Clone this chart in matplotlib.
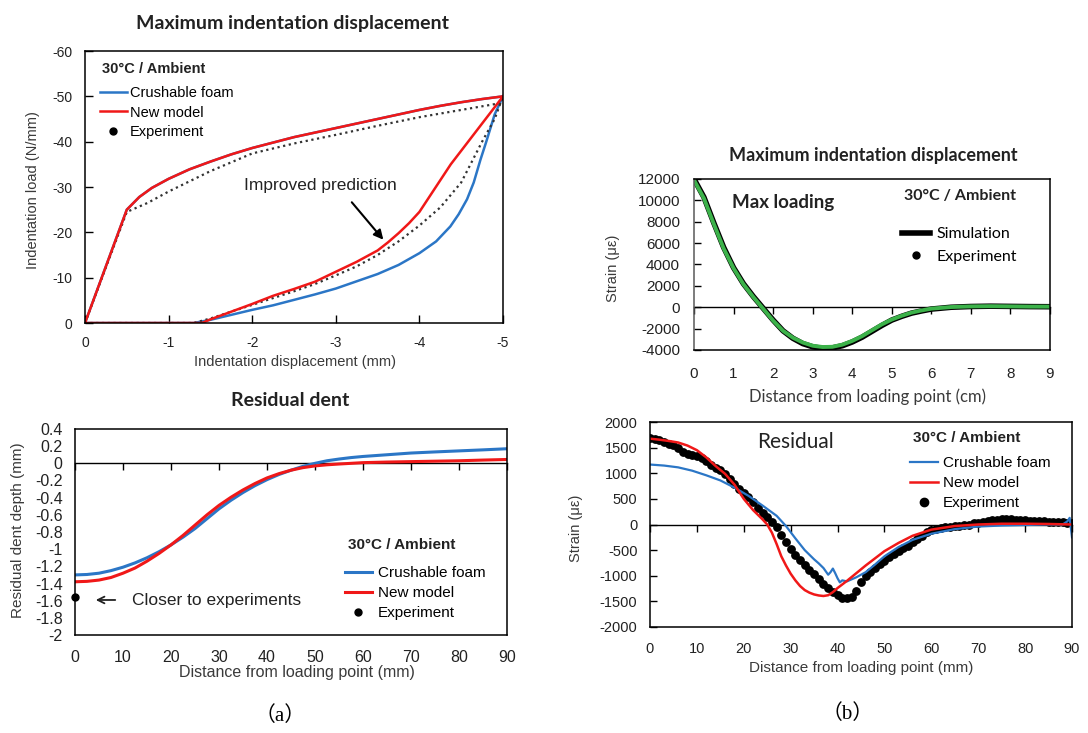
import matplotlib.pyplot as plt
from matplotlib.lines import Line2D

plt.rcParams['font.family'] = ['Liberation Sans', 'DejaVu Sans']
plt.rcParams['axes.unicode_minus'] = False

W, H = 1088, 733

BLUE = '#2b76c6'
RED = '#f01818'
GREEN = '#3cb24a'
LABEL = '#3a3a3a'

# (a) top: indentation load vs displacement (mm, N/mm)
load_x = [0, -0.5, -0.65, -0.8, -1.0, -1.25, -1.5, -1.75, -2.0, -2.25, -2.5, -2.75, -3.0,
          -3.25, -3.5, -3.75, -4.0, -4.25, -4.5, -4.75, -5.0]
load_model = [0, -25, -27.8, -29.8, -31.8, -33.9, -35.6, -37.2, -38.6, -39.8, -41, -42,
              -43, -44, -45, -46, -47, -47.9, -48.7, -49.4, -50]

unload_new_x = [-5, -4.875, -4.75, -4.625, -4.5, -4.375, -4.25, -4.125, -4.0, -3.875, -3.75,
                -3.625, -3.5, -3.25, -3.0, -2.75, -2.5, -2.25, -2.0, -1.75, -1.5, -1.4,
                -1.0, -0.5, 0]
unload_new = [-50, -47, -44, -41, -38, -35, -31.5, -28, -24.5, -22, -19.8, -17.8, -16,
              -13.5, -11.3, -9.1, -7.5, -6, -4.2, -2.5, -0.8, 0, 0, 0, 0]

unload_foam_x = [-5, -4.95, -4.9, -4.85, -4.8, -4.73, -4.65, -4.57, -4.47, -4.37, -4.2,
                 -4.0, -3.75, -3.5, -3.25, -3.0, -2.75, -2.5, -2.25, -2.0, -1.75, -1.5,
                 -1.3, -1.0, -0.5, 0]
unload_foam = [-50, -48, -46, -43, -40, -36, -31, -27.3, -24, -21.3, -18, -15.4, -12.8,
               -10.8, -9.2, -7.6, -6.3, -5.1, -3.9, -2.9, -1.8, -0.7, 0, 0, 0, 0]

exp_x = [0, -0.5, -0.75, -1.0, -1.5, -2.0, -2.5, -3.0, -3.5, -4.0, -4.5, -4.97,
         -5, -4.9, -4.75, -4.5, -4.25, -4.0, -3.75, -3.5, -3.25, -3.0, -2.75, -2.5,
         -2.25, -2.0, -1.75, -1.5, -1.3, -1.0, -0.5, 0]
exp_load = [0, -24.5, -26.5, -29, -33.5, -37.4, -39.6, -41.5, -43.5, -45.4, -47, -48.5,
            -50, -45, -40, -31, -25.5, -21.5, -18, -15, -12.5, -10.5, -8.6, -7,
            -5.5, -4, -2.5, -1, 0, 0, 0, 0]

# (a) bottom: residual dent depth (mm) vs distance (mm)
dent_x = [0, 2.5, 5, 7.5, 10, 12.5, 15, 17.5, 20, 22.5, 25, 27.5, 30, 32.5, 35, 37.5, 40,
          42.5, 45, 47.5, 50, 52.5, 55, 57.5, 60, 65, 70, 75, 80, 85, 90]
dent_foam = [-1.30, -1.295, -1.28, -1.25, -1.21, -1.16, -1.10, -1.03, -0.95, -0.86, -0.76,
             -0.645, -0.53, -0.43, -0.34, -0.26, -0.19, -0.13, -0.08, -0.035, 0.0, 0.03,
             0.05, 0.067, 0.08, 0.10, 0.12, 0.133, 0.145, 0.157, 0.17]
dent_new = [-1.38, -1.375, -1.36, -1.33, -1.28, -1.22, -1.14, -1.05, -0.95, -0.84, -0.72,
            -0.60, -0.49, -0.395, -0.31, -0.235, -0.17, -0.12, -0.08, -0.05, -0.03, -0.017,
            -0.008, 0.0, 0.008, 0.015, 0.02, 0.025, 0.03, 0.038, 0.045]
dent_exp_x = [0]
dent_exp = [-1.56]

# (b) top: strain at max loading (cm, microstrain)
max_x = [0, 0.25, 0.5, 0.75, 1, 1.25, 1.5, 1.75, 2, 2.25, 2.5, 2.75, 3, 3.25, 3.5, 3.75,
         4, 4.25, 4.5, 4.75, 5, 5.25, 5.5, 5.75, 6, 6.5, 7, 7.5, 8, 8.5, 9]
max_sim = [12000, 10300, 7900, 5600, 3700, 2200, 1000, -100, -1200, -2200, -2900, -3400,
           -3700, -3850, -3800, -3600, -3250, -2800, -2250, -1700, -1200, -850, -550,
           -350, -170, 0, 70, 100, 80, 60, 50]
max_exp = [11900, 10200, 7800, 5500, 3650, 2150, 950, -150, -1250, -2200, -2850, -3300,
           -3600, -3720, -3700, -3500, -3150, -2700, -2150, -1600, -1150, -800, -500,
           -300, -130, 20, 80, 100, 80, 60, 60]

# (b) bottom: residual strain (mm, microstrain)
res_foam_x = [0, 3, 6, 9, 12, 15, 18, 21, 24, 27, 29, 31, 33, 35, 36, 37, 38, 38.5, 39,
              39.5, 40, 40.5, 41, 42, 43, 44, 46, 48, 50, 53, 56, 60, 65, 70, 75, 80,
              85, 88, 89, 89.5, 90]
res_foam = [1170, 1150, 1115, 1050, 960, 860, 720, 560, 370, 170, -30, -270, -500, -680,
            -760, -850, -980, -930, -860, -950, -1050, -1130, -1090, -1110, -1070, -1030,
            -930, -780, -620, -440, -300, -180, -90, -40, -20, -10, 0, 0, 60, 130, -250]
res_new_x = [0, 2, 4, 6, 8, 10, 12, 14, 16, 18, 20, 22, 24, 25, 26, 27, 28, 29, 30, 31,
             32, 33, 34, 35, 36, 37, 38, 39, 40, 42, 44, 46, 48, 50, 53, 56, 60, 65, 70,
             75, 80, 85, 90]
res_new = [1675, 1655, 1630, 1600, 1540, 1450, 1310, 1140, 990, 780, 500, 280, 100, 0,
           -160, -380, -620, -800, -960, -1090, -1200, -1280, -1330, -1365, -1385, -1395,
           -1380, -1320, -1240, -1100, -950, -800, -660, -520, -360, -220, -100, -30, 0,
           15, 15, 10, 0]
res_exp_x = list(range(0, 91))
res_exp = [1690, 1670, 1640, 1610, 1580, 1545, 1500, 1420, 1375, 1350,
           1330, 1300, 1230, 1160, 1100, 1060, 990, 880, 790, 700,
           620, 540, 430, 330, 230, 140, 50, -50, -200, -350,
           -480, -590, -700, -790, -880, -970, -1070, -1160, -1240, -1310,
           -1380, -1430, -1440, -1410, -1300, -1130, -1010, -930, -850, -780,
           -720, -640, -570, -510, -460, -410, -350, -290, -220, -150,
           -100, -80, -60, -50, -40, -30, -20, -10, 0, 20,
           30, 40, 60, 80, 90, 100, 110, 100, 90, 80,
           80, 70, 70, 60, 60, 55, 50, 40, 40, 30, 20]

fig = plt.figure(figsize=(W / 100, H / 100), dpi=100)


def box(l, t, r, b):
    return fig.add_axes([l / W, 1 - b / H, (r - l) / W, (b - t) / H])


def ftext(x, y, s, **kw):
    fig.text(x / W, 1 - y / H, s, ha=kw.pop('ha', 'center'), va=kw.pop('va', 'center'), **kw)


def zero_axis(ax, frac, ticks):
    sec = ax.secondary_xaxis(frac)
    sec.set_alignment('bottom')
    sec.set_xticks(ticks)
    sec.tick_params(direction='out', length=5, width=1, labelbottom=False, labeltop=False)
    for s in sec.spines.values():
        s.set_linewidth(1.0)


def legend(ax, handles, labels, x, y, size, spacing, hlen, hpad, family='Liberation Sans'):
    ax.legend(handles, labels, loc='upper left', bbox_to_anchor=(x / W, 1 - y / H),
              bbox_transform=fig.transFigure, frameon=False, borderpad=0, borderaxespad=0,
              handlelength=hlen, handletextpad=hpad, labelspacing=spacing,
              prop={'size': size, 'family': family})


# ---------- (a) top ----------
ax1 = box(85, 51, 503, 323)
l_foam, = ax1.plot(load_x, load_model, color=BLUE, lw=1.8)
ax1.plot(unload_foam_x, unload_foam, color=BLUE, lw=1.8)
ax1.plot(exp_x, exp_load, color='0.2', lw=1.6, ls=(0, (1, 1.6)))
l_new, = ax1.plot(load_x, load_model, color=RED, lw=1.8)
ax1.plot(unload_new_x, unload_new, color=RED, lw=1.8)
ax1.set_xlim(0, -5)
ax1.set_ylim(0, -60)
ax1.set_xticks([0, -1, -2, -3, -4, -5])
ax1.set_yticks([0, -10, -20, -30, -40, -50, -60])
ax1.tick_params(direction='in', length=6, width=1, labelsize=10, pad=9, labelcolor='#222')
ax1.set_xlabel('Indentation displacement (mm)', fontsize=10.5, color=LABEL, va='center')
ax1.xaxis.set_label_coords(0.502, -0.143)
ax1.set_ylabel('Indentation load (N/mm)', fontsize=10.5, color=LABEL, va='center')
ax1.yaxis.set_label_coords(-0.124, 0.489)
dot = Line2D([], [], ls='none', marker='o', color='black', ms=5)
ftext(102, 69, '30°C / Ambient', fontsize=10.5, weight='bold', ha='left', color='#222')
legend(ax1, [l_foam, l_new, dot], ['Crushable foam', 'New model', 'Experiment'], 100, 86,
       10.5, 0.38, 1.85, 0.2)
ax1.annotate('', xy=(-3.59, -17.9), xytext=(-3.17, -27.1),
             arrowprops=dict(arrowstyle='-|>', color='black', lw=1.5, mutation_scale=14))
ax1.text(-2.81, -30.4, 'Improved prediction', fontsize=12.5, color='#222',
         ha='center', va='center')

# ---------- (a) bottom ----------
ax2 = box(75, 429, 507, 635)
b_foam, = ax2.plot(dent_x, dent_foam, color=BLUE, lw=2.2)
b_new, = ax2.plot(dent_x, dent_new, color=RED, lw=2.2)
b_exp, = ax2.plot(dent_exp_x, dent_exp, ls='none', marker='o', color='black', ms=5,
                  clip_on=False)
ax2.set_xlim(0, 90)
ax2.set_ylim(-2, 0.4)
ax2.set_xticks(range(0, 91, 10))
ax2.set_yticks([-2, -1.8, -1.6, -1.4, -1.2, -1, -0.8, -0.6, -0.4, -0.2, 0, 0.2, 0.4])
ax2.set_yticklabels(['-2', '-1.8', '-1.6', '-1.4', '-1.2', '-1', '-0.8', '-0.6', '-0.4',
                     '-0.2', '0', '0.2', '0.4'])
ax2.tick_params(length=0, labelsize=11.5, labelcolor='#222')
ax2.tick_params(axis='x', pad=11)
ax2.tick_params(axis='y', pad=9)
zero_axis(ax2, 2 / 2.4, range(0, 91, 10))
ax2.set_xlabel('Distance from loading point (mm)', fontsize=11.5, color=LABEL, va='center')
ax2.xaxis.set_label_coords(0.514, -0.184)
ax2.set_ylabel('Residual dent depth (mm)', fontsize=11, color=LABEL, va='center')
ax2.yaxis.set_label_coords(-0.132, 0.51)
ftext(348, 545, '30°C / Ambient', fontsize=11, weight='bold', ha='left', color='#222')
legend(ax2, [b_foam, b_new, b_exp], ['Crushable foam', 'New model', 'Experiment'], 345, 566,
       11, 0.39, 1.76, 0.4)
ax2.annotate('', xy=(3.75, -1.592), xytext=(8.96, -1.592),
             arrowprops=dict(arrowstyle='->', color='#222', lw=1.3, mutation_scale=12))
ax2.text(11.9, -1.6, 'Closer to experiments', fontsize=12.5, color='#222',
         ha='left', va='center')

# ---------- (b) top ----------
ax3 = box(694, 179, 1050, 350)
s_sim, = ax3.plot(max_x, max_sim, color='black', lw=4)
ax3.plot(max_x, max_exp, color=GREEN, lw=2.8)
ax3.set_xlim(0, 9)
ax3.set_ylim(-4000, 12000)
ax3.set_xticks(range(0, 10))
ax3.set_yticks(range(-4000, 12001, 2000))
ax3.tick_params(axis='x', length=0, labelsize=11, pad=12, labelcolor='#222')
ax3.tick_params(axis='y', direction='in', length=5, width=1, labelsize=11, pad=10,
                labelcolor='#222')
ax3.spines['left'].set_color('0.35')
zero_axis(ax3, 0.25, range(0, 10))
ax3.set_xlabel('Distance from loading point (cm)', fontsize=12, color=LABEL,
               family='Lato', va='center')
ax3.xaxis.set_label_coords(0.486, -0.275)
ax3.set_ylabel('Strain (με)', fontsize=10.5, color=LABEL, va='center')
ax3.yaxis.set_label_coords(-0.228, 0.48)
ax3.text(0.107, 0.86, 'Max loading', transform=ax3.transAxes, fontsize=13.5,
         weight='bold', family='Lato', color='#222', ha='left', va='center')
ax3.text(0.59, 0.9, '30°C / Ambient', transform=ax3.transAxes, fontsize=11.5,
         weight='bold', family='Lato', color='#222', ha='left', va='center')
dot3 = Line2D([], [], ls='none', marker='o', color='black', ms=5)
legend(ax3, [s_sim, dot3], ['Simulation', 'Experiment'], 902, 227, 11.5, 0.51, 1.75, 0.44,
       family='Lato')

# ---------- (b) bottom ----------
ax4 = box(650, 422, 1072, 627)
ax4.plot(res_exp_x, res_exp, ls='none', marker='o', color='black', ms=5.3)
r_foam, = ax4.plot(res_foam_x, res_foam, color=BLUE, lw=1.6)
r_new, = ax4.plot(res_new_x, res_new, color=RED, lw=1.8)
r_exp = Line2D([], [], ls='none', marker='o', color='black', ms=6)
ax4.set_xlim(0, 90)
ax4.set_ylim(-2000, 2000)
ax4.set_xticks(range(0, 91, 10))
ax4.set_yticks(range(-2000, 2001, 500))
ax4.tick_params(axis='x', length=0, labelsize=10.5, pad=11, labelcolor='#222')
ax4.tick_params(axis='y', direction='in', length=5, width=1, labelsize=10.5, pad=9,
                labelcolor='#222')
zero_axis(ax4, 0.5, range(0, 91, 10))
ax4.set_xlabel('Distance from loading point (mm)', fontsize=11, color=LABEL, va='center')
ax4.xaxis.set_label_coords(0.5, -0.2)
ax4.set_ylabel('Strain (με)', fontsize=10.5, color=LABEL, va='center')
ax4.yaxis.set_label_coords(-0.175, 0.483)
ax4.text(0.254, 0.9, 'Residual', transform=ax4.transAxes, fontsize=15, family='Lato',
         color='#222', ha='left', va='center')
ftext(913, 438, '30°C / Ambient', fontsize=11, weight='bold', ha='left', color='#222')
legend(ax4, [r_foam, r_new, r_exp], ['Crushable foam', 'New model', 'Experiment'], 910, 456,
       11, 0.39, 1.83, 0.33)

for ax in (ax1, ax2, ax3, ax4):
    for s in ax.spines.values():
        s.set_linewidth(1.1)

# titles and panel tags
ftext(293, 23, 'Maximum indentation displacement', fontsize=14, weight='bold',
      family='Lato', color='#222')
ftext(290, 400, 'Residual dent', fontsize=14, weight='bold', family='Lato', color='#222')
ftext(873, 155, 'Maximum indentation displacement', fontsize=13, weight='bold',
      family='Lato', color='#222')
ftext(280, 716, '（a）', fontsize=15, family=['Liberation Serif', 'Noto Sans CJK SC'])
ftext(848, 714, '（b）', fontsize=15, family=['Liberation Serif', 'Noto Sans CJK SC'])

fig.savefig('out.png', dpi=100)
